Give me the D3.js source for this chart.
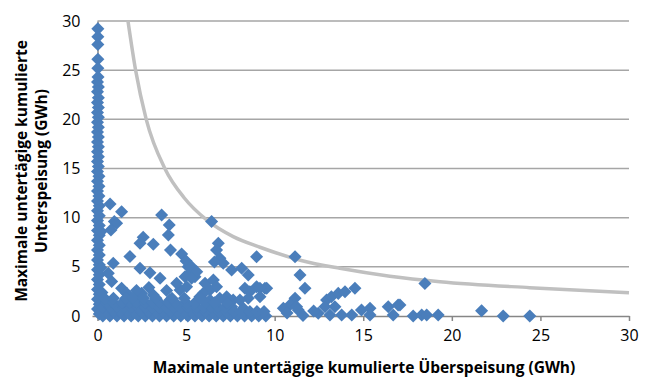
<!DOCTYPE html>
<html><head><meta charset="utf-8">
<script src="https://cdn.jsdelivr.net/npm/d3@7"></script>
<style>body{margin:0;background:#fff}svg{display:block}text{font-family:"Open Sans",Lato,sans-serif}</style>
</head><body><svg id="c" width="647" height="379"></svg>
<script>
// Tick values
const xTicks = [0, 5, 10, 15, 20, 25, 30];
const yTicks = [0, 5, 10, 15, 20, 25, 30];
const xTitle = "Maximale untertägige kumulierte Überspeisung (GWh)";
const yTitle = ["Maximale untertägige kumulierte", "Unterspeisung (GWh)"];

// Points on the x≈0 column: [x, y]
const columnPoints = [
 [0.02,29.2],[0.02,28.4],[0.02,27.6],[0.02,26.1],[0.02,25.2],[0.03,24.3],[0.0,23.8],[0.05,23.3],[0.0,22.8],[0.05,22.2],
 [0.0,21.7],[0.05,21.2],[0.0,20.7],[0.05,20.2],[0.0,19.7],[0.05,19.2],[0.0,18.7],[0.05,18.2],[0.0,17.7],[0.05,17.2],
 [0.0,16.7],[0.05,16.2],[0.0,15.7],[0.05,15.2],[0.0,14.7],[0.08,14.2],[0.0,13.7],[0.08,13.2],[0.0,12.7],[0.08,12.2],
 [0.0,11.7],[0.1,11.2],[0.0,10.7],[0.1,10.2],[0.0,9.7],[0.1,9.2],[0.0,8.7],[0.1,8.2],[0.0,7.7],[0.1,7.2],
 [0.0,6.7],[0.1,6.2],[0.0,5.7],[0.1,5.2],[0.0,4.7],[0.1,4.2],[0.0,3.7],[0.1,3.2],[0.0,2.7],[0.1,2.2],
 [0.0,1.7],[0.1,1.2],[0.0,0.7],[0.1,0.2],[0.2,8.6],[0.2,4.9],[0.25,2.4],[0.2,1.2]
];

// Scattered points: [Überspeisung, Unterspeisung]
const scatterPoints = [
 [0.71,11.4],[1.36,10.6],[0.95,9.6],[1.08,9.43],[0.76,8.75],[3.62,10.27],[4.05,9.26],[4.0,8.24],[2.58,8.0],[2.4,7.4],
 [3.15,7.3],[4.12,6.7],[1.83,6.05],[4.75,6.3],[0.89,5.36],[2.4,4.85],[2.96,4.4],[3.53,3.83],[0.8,3.5],[0.61,4.34],
 [4.94,4.0],[5.12,5.0],[5.0,5.6],[5.31,4.5],[5.5,4.0],[6.44,9.6],[6.82,7.4],[6.72,6.7],[6.91,5.87],[6.6,5.5],
 [7.1,5.36],[8.98,6.03],[11.15,6.03],[7.57,4.68],[8.14,4.85],[8.51,4.17],[5.31,5.0],[5.6,4.5],[6.07,3.32],[6.54,3.66],
 [6.35,2.64],[5.78,1.96],[8.98,2.98],[9.55,2.82],[8.6,2.47],[7.66,1.63],[7.57,0.95],[8.23,0.78],[11.43,4.17],[11.71,2.82],
 [11.15,1.8],[10.86,1.12],[10.49,0.78],[11.24,0.95],[11.33,0.6],[11.6,0.05],[12.46,0.27],[12.93,1.63],[13.2,1.96],[13.59,2.3],
 [13.97,2.47],[14.53,2.82],[13.4,0.95],[13.12,0.1],[13.78,0.1],[14.35,0.1],[14.9,0.61],[15.38,0.78],[15.38,0.1],[16.41,0.95],
 [16.97,1.12],[16.69,0.1],[12.84,0.95],[18.48,3.3],[17.07,1.12],[17.82,0.0],[18.3,0.1],[18.58,0.1],[19.23,0.1],[21.68,0.54],
 [22.9,0.0],[24.4,0.0],[1.36,2.82],[1.65,2.3],[2.12,1.96],[2.49,2.3],[3.15,2.14],[4.09,1.63],[4.66,2.64],[4.47,3.32],
 [5.03,2.98],[5.31,3.83],[5.97,2.3],[6.72,2.98],[6.35,1.63],[7.29,1.96],[8.32,2.82],[8.51,1.8],[9.17,1.96],[8.04,1.63],
 [9.45,2.82],[9.17,2.82],[12.2,0.5],[10.7,0.3],[3.9,2.6],[2.9,2.9],[2.2,2.6],
 [0.3,0.0],[0.7,0.0],[1.1,0.0],[1.5,0.0],[1.9,0.0],[2.3,0.0],[2.7,0.0],[3.1,0.0],[3.5,0.0],[3.9,0.0],
 [4.3,0.0],[4.7,0.0],[5.1,0.0],[5.5,0.0],[5.9,0.0],[6.3,0.0],[6.7,0.0],[7.1,0.0],[7.5,0.0],[7.9,0.0],
 [8.3,0.0],[8.7,0.0],[9.1,0.0],[9.5,0.0],
 [0.5,0.45],[0.9,0.45],[1.3,0.45],[1.7,0.45],[2.1,0.45],[2.5,0.45],[2.9,0.45],[3.3,0.45],[3.7,0.45],[4.1,0.45],
 [4.5,0.45],[4.9,0.45],[5.3,0.45],[5.7,0.45],[6.1,0.45],[6.5,0.45],[6.9,0.45],[7.3,0.45],[7.7,0.45],[8.1,0.45],
 [8.6,0.45],[9.0,0.45],[9.4,0.45],
 [0.3,0.9],[0.7,0.9],[1.1,0.9],[1.5,0.9],[1.9,0.9],[2.3,0.9],[2.7,0.9],[3.1,0.9],[3.5,0.9],[3.9,0.9],
 [4.3,0.9],[4.7,0.9],[5.1,0.9],[5.6,0.9],[6.0,0.9],[6.4,0.9],[6.8,0.9],[7.2,0.9],
 [0.5,1.35],[0.9,1.35],[1.4,1.35],[1.8,1.35],[2.2,1.35],[2.7,1.35],[3.1,1.35],[3.5,1.35],[4.0,1.35],[4.4,1.35],
 [5.0,1.35],[5.5,1.35],[6.1,1.35],[6.6,1.35],[7.3,1.35],
 [0.4,1.8],[0.9,1.8],[1.6,1.8],[2.0,1.8],[2.6,1.8],[3.3,1.8],[4.2,1.8],[4.9,1.8],[5.8,1.8],[6.9,1.8]
];

// Gray limit curve: [x, y]
const curveX = [1.72, 2.15, 2.75, 3.8, 4.9, 6.16, 7.66, 9.17, 11.5, 13.68, 16.5, 19.33, 24.4, 30];
const curveY = [30, 25, 20, 15, 12, 9.77, 8.07, 6.99, 5.65, 4.85, 4.05, 3.49, 2.88, 2.37];

const svg = d3.select("#c");
const x = d3.scaleLinear().domain([0, 30]).range([97.5, 629]);
const y = d3.scaleLinear().domain([0, 30]).range([316, 21]);

// gridlines
svg.append("g").selectAll("line").data(yTicks.filter(d => d > 0)).join("line")
  .attr("x1", x(0)).attr("x2", x(30)).attr("y1", d => y(d)).attr("y2", d => y(d))
  .attr("stroke", "#a6a6a6").attr("stroke-width", 1.5);

// x axis
const xa = svg.append("g").attr("transform", `translate(0,${y(0)})`)
  .call(d3.axisBottom(x).tickValues(xTicks).tickSize(5).tickPadding(9).tickSizeOuter(0));
xa.select(".domain").attr("stroke", "#868686").attr("stroke-width", 1.5);
xa.selectAll(".tick line").attr("stroke", "#868686").attr("stroke-width", 1.5);
xa.selectAll("text").attr("font-size", 16).attr("fill", "#000").attr("font-family", "Open Sans");

// y axis
const ya = svg.append("g").attr("transform", `translate(${x(0)},0)`)
  .call(d3.axisLeft(y).tickValues(yTicks).tickSize(5).tickPadding(12).tickSizeOuter(0));
ya.select(".domain").attr("stroke", "#868686").attr("stroke-width", 1.5);
ya.selectAll(".tick line").attr("stroke", "#868686").attr("stroke-width", 1.5).attr("opacity", (d) => d === 0 ? 1 : 0);
ya.selectAll("text").attr("font-size", 16).attr("fill", "#000").attr("font-family", "Open Sans");

// curve
const curvePts = curveX.map((v, i) => [v, curveY[i]]);
svg.append("path").datum(curvePts)
  .attr("d", d3.line().x(d => x(d[0])).y(d => y(d[1])).curve(d3.curveMonotoneX))
  .attr("fill", "none").attr("stroke", "#c0c0c0").attr("stroke-width", 3.5);

// points
const sym = d3.symbol().type(d3.symbolSquare).size(85);
svg.append("g").selectAll("path").data(columnPoints.concat(scatterPoints)).join("path")
  .attr("d", sym)
  .attr("transform", d => `translate(${x(d[0])},${y(d[1])}) rotate(45)`)
  .attr("fill", "#4a7ebb");

// titles
svg.append("text").attr("x", 364).attr("y", 373).attr("text-anchor", "middle")
  .attr("font-size", 15.5).attr("font-weight", "bold").text(xTitle);
const yt = svg.append("text").attr("transform", "translate(0,171) rotate(-90)").attr("text-anchor", "middle")
  .attr("font-size", 15.5).attr("font-weight", "bold");
yt.append("tspan").attr("x", 0).attr("y", 27).text(yTitle[0]);
yt.append("tspan").attr("x", 0).attr("y", 47).text(yTitle[1]);
</script></body></html>
